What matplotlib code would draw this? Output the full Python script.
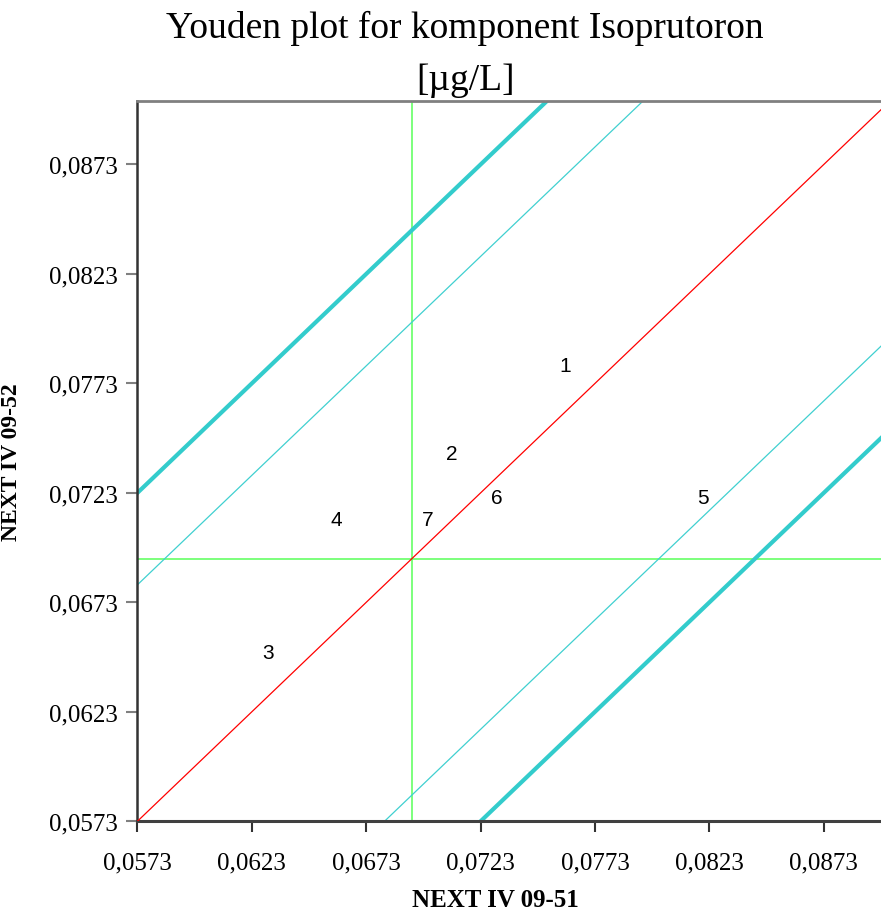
import matplotlib
matplotlib.use("Agg")
import matplotlib.pyplot as plt
import numpy as np

# Laboratory results for the two samples (label, x, y)
labs = ["1", "2", "3", "4", "5", "6", "7"]
x_vals = [0.0760, 0.07105, 0.0630, 0.0660, 0.0820, 0.0730, 0.0700]
y_vals = [0.0781, 0.0741, 0.0650, 0.0711, 0.0721, 0.0721, 0.0711]

median_x = 0.0693
median_y = 0.0693
inner_offset = 0.0108   # thin limit lines
outer_offset = 0.0150   # thick limit lines

tick_vals = [0.0573, 0.0623, 0.0673, 0.0723, 0.0773, 0.0823, 0.0873]
tick_labels = ["0,0573", "0,0623", "0,0673", "0,0723", "0,0773", "0,0823", "0,0873"]

x_lim = (0.0573, 0.0898)
y_lim = (0.0573, 0.0902)

serif = ["Liberation Serif", "DejaVu Serif"]
sans = ["Liberation Sans", "DejaVu Sans"]

fig = plt.figure(figsize=(8.81, 9.12), dpi=100)
ax = fig.add_axes([0.156, 0.0984, 0.844, 0.7898])
ax.set_xlim(*x_lim)
ax.set_ylim(*y_lim)

xx = np.array([0.05, 0.10])
# Diagonal reference line and limit lines
ax.plot(xx, xx - median_x + median_y, color="#ff0000", lw=0.9, zorder=3)
for off in (inner_offset, -inner_offset):
    ax.plot(xx, xx + off, color="#40d0d0", lw=0.9, zorder=2)
for off in (outer_offset, -outer_offset):
    ax.plot(xx, xx + off, color="#33cccc", lw=3.0, zorder=2)

# Median cross
ax.axvline(median_x, color="#66ff66", lw=1.2, zorder=1)
ax.axhline(median_y, color="#66ff66", lw=1.2, zorder=1)

# Laboratory numbers
for lab, xv, yv in zip(labs, x_vals, y_vals):
    ax.text(xv, yv, lab, ha="center", va="center", fontsize=15,
            family=sans, color="black", zorder=4)

ax.set_xticks(tick_vals)
ax.set_xticklabels(tick_labels, family=serif, fontsize=18)
ax.set_yticks(tick_vals)
ax.set_yticklabels(tick_labels, family=serif, fontsize=18)
ax.tick_params(axis="x", direction="out", length=8, width=1.5, color="#333333", pad=14)
ax.tick_params(axis="y", direction="out", length=8, width=1.5, color="#808080", pad=6)

ax.spines["left"].set_color("#333333")
ax.spines["left"].set_linewidth(1.8)
ax.spines["bottom"].set_color("#404040")
ax.spines["bottom"].set_linewidth(2.2)
ax.spines["top"].set_color("#808080")
ax.spines["top"].set_linewidth(2.0)
ax.spines["right"].set_visible(False)

ax.set_xlabel("NEXT IV 09-51", family=serif, fontsize=18, fontweight="bold")
ax.set_ylabel("NEXT IV 09-52", family=serif, fontsize=17, fontweight="bold")
ax.xaxis.set_label_coords(0.481, -0.092)
ax.yaxis.set_label_coords(-0.155, 0.5)

fig.text(0.528, 0.969, "Youden plot for komponent Isoprutoron", ha="center", va="center",
         family=serif, fontsize=27)
fig.text(0.528, 0.912, "[µg/L]", ha="center", va="center", family=serif, fontsize=27)

fig.savefig("out.png", dpi=100)
